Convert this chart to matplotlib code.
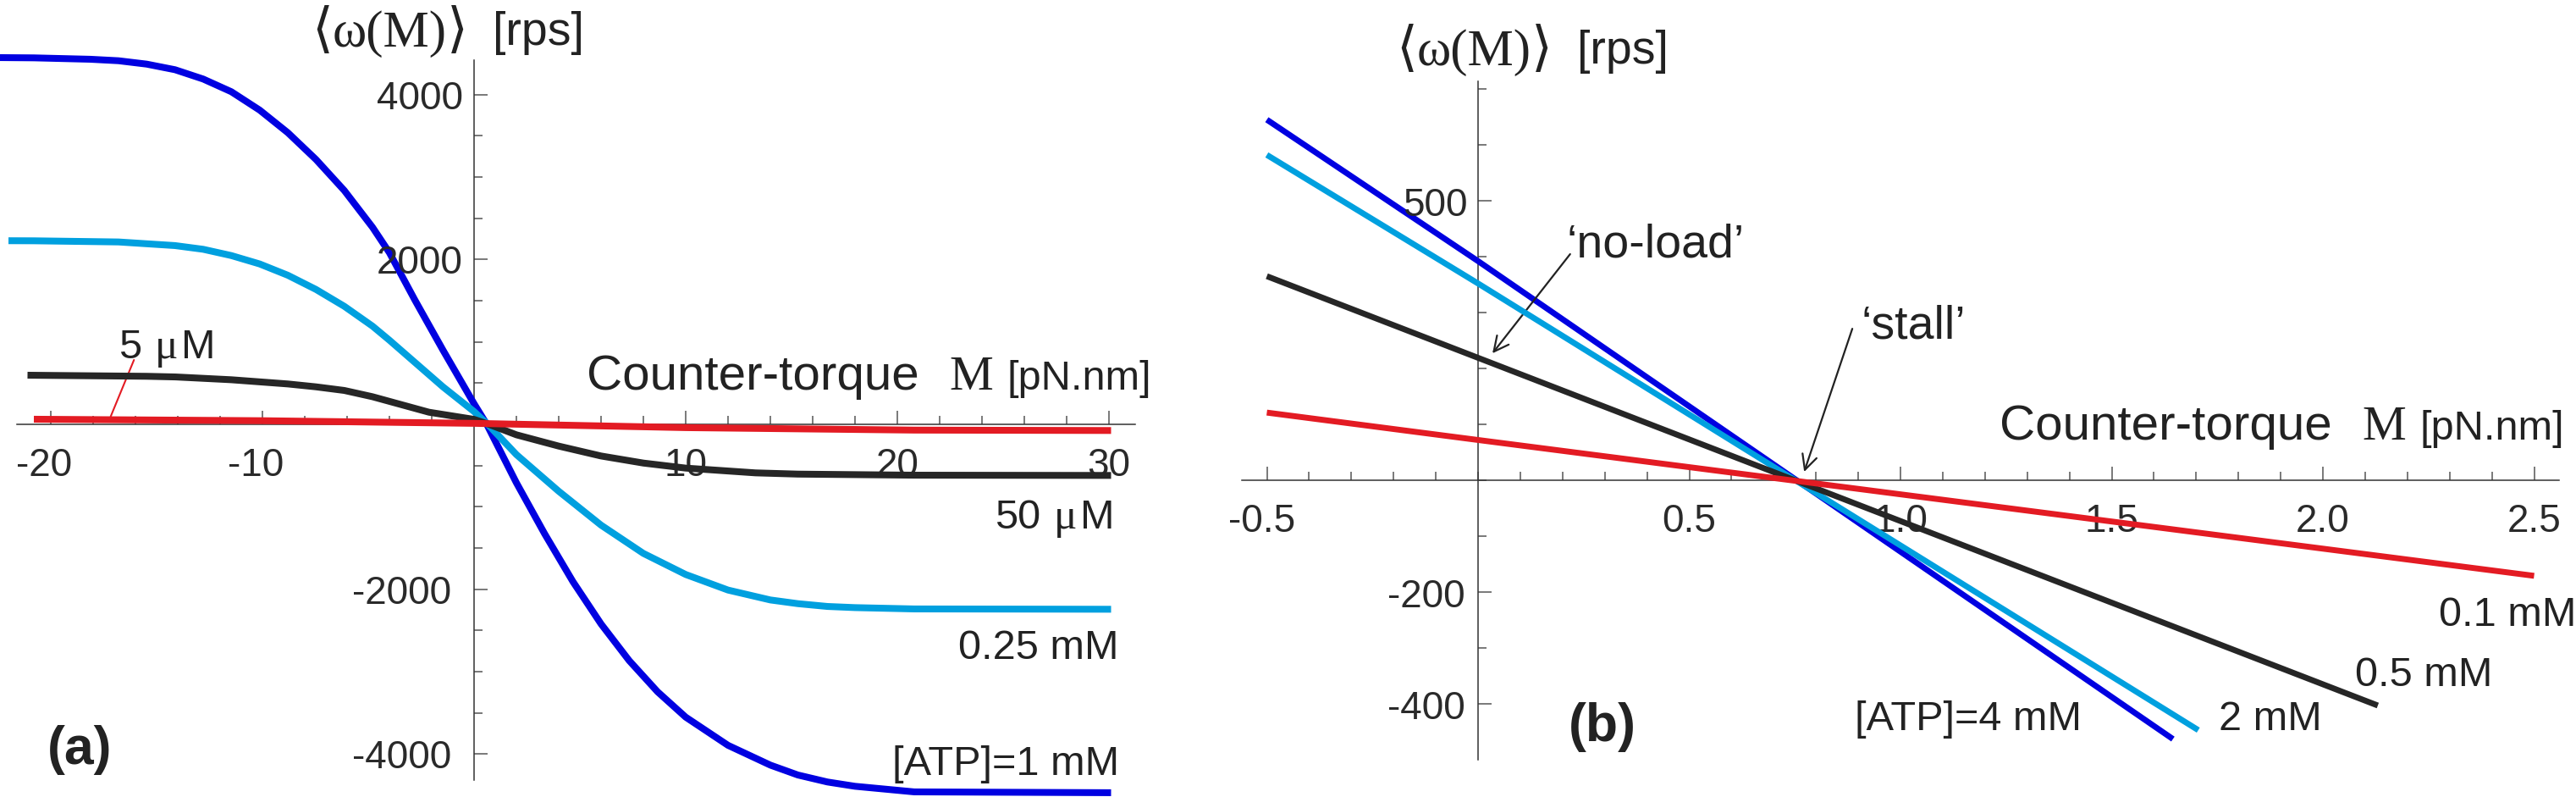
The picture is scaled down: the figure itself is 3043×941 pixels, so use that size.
import matplotlib
matplotlib.use('Agg')
import matplotlib.pyplot as plt

# ---------------- data ----------------
# panel (a): mean rotation rate vs counter-torque, wide range
M_a_blue = [-22.4, -20.8, -18.13, -16.8, -15.47, -14.13, -12.8, -11.47, -10.13, -8.8, -7.47, -6.13,
            -4.8, -4.0, -2.8, -1.47, 0.0, 0.6,
            2.0, 3.33, 4.67, 6.0, 7.33, 8.67, 10.0, 12.0, 14.0, 15.3, 16.7, 18.0, 20.8, 30.1]
w_a_blue = [4450, 4447, 4430, 4412, 4371, 4303, 4190, 4036, 3813, 3539, 3214, 2837,
            2392, 2083, 1510, 901, 250, 0,
            -709, -1326, -1908, -2422, -2867, -3245, -3553, -3895, -4135, -4255, -4340, -4392, -4460, -4470]
M_a_cyan = [-22.0, -20.8, -16.8, -14.13, -12.8, -11.47, -10.13, -8.8, -7.47, -6.13, -4.8, -4.0,
            -1.47, 0.0, 0.65,
            2.0, 4.0, 6.0, 8.0, 10.0, 12.0, 14.0, 15.3, 16.7, 18.0, 20.8, 30.1]
w_a_cyan = [2228, 2227, 2213, 2169, 2124, 2048, 1946, 1809, 1637, 1432, 1192, 1021,
            455, 155, 0,
            -367, -812, -1223, -1566, -1822, -2011, -2131, -2176, -2210, -2224, -2240, -2244]
M_a_black = [-21.1, -15.47, -14.1, -11.47, -8.8, -7.47, -6.13, -4.8, -2.13, 0.0, 0.7,
             2.0, 4.0, 6.0, 8.0, 10.0, 13.3, 15.3, 20.8, 30.1]
w_a_black = [596, 583, 575, 541, 490, 455, 411, 335, 147, 60, 0,
             -127, -264, -384, -470, -531, -589, -604, -617, -620]
M_a_red = [-20.8, -10.0, 0.0, 10.0, 20.8, 30.1]
w_a_red = [62, 44, 12, -40, -70, -75]

# panel (b): zoom near the stall torque
M_b_blue = [-0.5, 0.0, 1.645]
w_b_blue = [645, 392, -463]
M_b_cyan = [-0.5, 0.0, 1.705]
w_b_cyan = [582, 352, -447]
M_b_black = [-0.5, 0.0, 2.13]
w_b_black = [365, 219, -403]
M_b_red = [-0.5, 0.0, 2.5]
w_b_red = [121, 72, -171]

# ticks
xt_a_major = [-20, -10, 10, 20, 30]
xt_a_labels = ['-20', '-10', '10', '20', '30']
xt_a_minor = list(range(-20, 31, 2))
yt_a_major = [4000, 2000, -2000, -4000]
yt_a_labels = ['4000', '2000', '-2000', '-4000']
yt_a_minor = list(range(-4000, 4001, 500))

xt_b_major = [-0.5, 0.5, 1.0, 1.5, 2.0, 2.5]
xt_b_labels = ['-0.5', '0.5', '1.0', '1.5', '2.0', '2.5']
xt_b_minor = [i / 10 for i in range(-5, 26)]
yt_b_major = [500, -200, -400]
yt_b_labels = ['500', '-200', '-400']
yt_b_minor = list(range(-400, 701, 100))

BLUE = '#0000E1'
CYAN = '#00A0DF'
BLACK = '#262626'
RED = '#E31B23'
TXT = '#222222'
AX = '#333333'
SANS = 'Liberation Sans'
SERIF = 'Liberation Serif'

# ---------------- figure ----------------
W, H = 3043, 941
fig = plt.figure(figsize=(W / 100, H / 100), dpi=100)
renderer = fig.canvas.get_renderer()


def seq(x, y, pieces, align='left'):
    texts, widths = [], []
    for s, kw, gap in pieces:
        t = fig.text(0, 0, s, va='baseline', ha='left', color=TXT, **kw)
        w = t.get_window_extent(renderer).width
        texts.append(t)
        widths.append(w + gap)
    total = sum(widths) - pieces[-1][2]
    if align == 'right':
        x = x - total
    for t, w in zip(texts, widths):
        t.set_position((x / W, 1 - y / H))
        x += w


def setup(ax, xlim, ylim, xb, yb, xmaj, xmin, ymaj, ymin):
    ax.set_xlim(*xlim)
    ax.set_ylim(*ylim)
    ax.patch.set_visible(False)
    for s in ['top', 'right']:
        ax.spines[s].set_visible(False)
    for s in ['left', 'bottom']:
        ax.spines[s].set_position(('data', 0))
        ax.spines[s].set_color(AX)
        ax.spines[s].set_linewidth(1.1)
    ax.spines['bottom'].set_bounds(*xb)
    ax.spines['left'].set_bounds(*yb)
    ax.set_xticks(xmaj)
    ax.set_xticks(xmin, minor=True)
    ax.set_yticks(ymaj)
    ax.set_yticks(ymin, minor=True)
    ax.tick_params(which='both', direction='in', color='#555555', width=1.1,
                   labelbottom=False, labelleft=False)
    ax.tick_params(which='major', length=11.5)
    ax.tick_params(which='minor', length=7)


tick_kw = dict(fontsize=33, family=SANS, color='#2a2a2a')

# ---------- panel (a) ----------
ax1 = fig.add_axes([0, 0, 1400 / W, 1])
setup(ax1, (-22.4, 33.6), (-(941 - 501) / 0.0973, 501 / 0.0973),
      (-21.6, 31.24), (-4317, 4419), xt_a_major, xt_a_minor, yt_a_major, yt_a_minor)
lw_a = 5.8
line_kw = dict(solid_capstyle='butt', solid_joinstyle='round')
ax1.plot(M_a_blue, w_a_blue, color=BLUE, lw=lw_a, zorder=3, **line_kw)
ax1.plot(M_a_cyan, w_a_cyan, color=CYAN, lw=lw_a, zorder=4, **line_kw)
ax1.plot(M_a_black, w_a_black, color=BLACK, lw=lw_a, zorder=5, **line_kw)
ax1.plot(M_a_red, w_a_red, color=RED, lw=lw_a, zorder=6, **line_kw)

for v, lab in zip(xt_a_major, xt_a_labels):
    ax1.annotate(lab, xy=(v, 0), xytext=(-8 if v < 0 else 0, -61), textcoords='offset pixels',
                 ha='center', va='baseline', **tick_kw)
for v, lab in zip(yt_a_major, yt_a_labels):
    ax1.annotate(lab, xy=(0, v), xytext=(-13 if v > 0 else -27, -17), textcoords='offset pixels',
                 ha='right', va='baseline', **tick_kw)

# leader line for 5 uM
ax1.annotate('', xy=(-17.17, 95), xytext=(-16.07, 781),
             arrowprops=dict(arrowstyle='-', color=RED, lw=1.5, shrinkA=0, shrinkB=0))

# ---------- panel (b) ----------
ax2 = fig.add_axes([1420 / W, 0, 1623 / W, 1])
setup(ax2, ((1420 - 1746) / 499, (3043 - 1746) / 499), ((567 - 941) / 0.66, 567 / 0.66),
      (-0.56, 2.56), (-500, 713.6), xt_b_major, xt_b_minor, yt_b_major, yt_b_minor)
lw_b = 5.0
ax2.plot(M_b_blue, w_b_blue, color=BLUE, lw=lw_b, zorder=3, **line_kw)
ax2.plot(M_b_cyan, w_b_cyan, color=CYAN, lw=lw_b, zorder=4, **line_kw)
ax2.plot(M_b_black, w_b_black, color=BLACK, lw=lw_b, zorder=5, **line_kw)
ax2.plot(M_b_red, w_b_red, color=RED, lw=lw_b, zorder=6, **line_kw)

for v, lab in zip(xt_b_major, xt_b_labels):
    ax2.annotate(lab, xy=(v, 0), xytext=(-6 if v < 0 else 0, -61), textcoords='offset pixels',
                 ha='center', va='baseline', **tick_kw)
for v, lab in zip(yt_b_major, yt_b_labels):
    ax2.annotate(lab, xy=(0, v), xytext=(-12 if v > 0 else -15, -18), textcoords='offset pixels',
                 ha='right', va='baseline', **tick_kw)

arrow_kw = dict(arrowstyle='->,head_length=0.9,head_width=0.45', lw=1.6, color=TXT,
                shrinkA=0, shrinkB=0, mutation_scale=14)
ax2.annotate('', xy=(0.0341, 227), xytext=(0.218, 404.5), arrowprops=arrow_kw)
ax2.annotate('', xy=(0.772, 15), xytext=(0.886, 271), arrowprops=arrow_kw)

# ---------------- texts ----------------
br = dict(family=['DejaVu Sans'], fontsize=46)
om = dict(family=[SERIF, 'DejaVu Serif'], fontsize=44)
for x0, yb, xr in [(368, 55, 582), (1649, 77, 1863)]:
    seq(x0, yb, [('\u27e8', br, 0), ('\u03c9(M)', om, 0), ('\u27e9', br, 0)])
    seq(xr, yb - 2, [('[rps]', dict(family=SANS, fontsize=40), 0)])

for x0, yb in [(693, 460), (2362, 519)]:
    seq(x0, yb, [('Counter-torque', dict(family=SANS, fontsize=42), 36),
                 ('M', dict(family=SERIF, fontsize=42), 16),
                 ('[pN.nm]', dict(family=SANS, fontsize=35), 0)])

lab_kw = dict(family=SANS, fontsize=35)
mu_kw = dict(family=SERIF, fontsize=37)
seq(140, 423, [('5', lab_kw, 16), ('\u03bc', mu_kw, 3), ('M', lab_kw, 0)])
seq(1316, 624, [('50', lab_kw, 16), ('\u03bc', mu_kw, 3), ('M', lab_kw, 0)], align='right')
seq(1322, 778, [('0.25 mM', lab_kw, 0)], align='right')
seq(1322, 915, [('[ATP]=1 mM', lab_kw, 0)], align='right')

seq(2881, 739, [('0.1 mM', lab_kw, 0)])
seq(2782, 810, [('0.5 mM', lab_kw, 0)])
seq(2621, 862, [('2 mM', lab_kw, 0)])
seq(2191, 862, [('[ATP]=4 mM', lab_kw, 0)])

ann_kw = dict(family=SANS, fontsize=40)
seq(1850, 303, [('\u2018no-load\u2019', ann_kw, 0)])
seq(2199, 399, [('\u2018stall\u2019', ann_kw, 0)])

bold_kw = dict(family=SANS, fontsize=45, fontweight='bold')
seq(56, 902, [('(a)', bold_kw, 0)])
seq(1853, 875, [('(b)', bold_kw, 0)])

fig.savefig('out.png', dpi=100)
